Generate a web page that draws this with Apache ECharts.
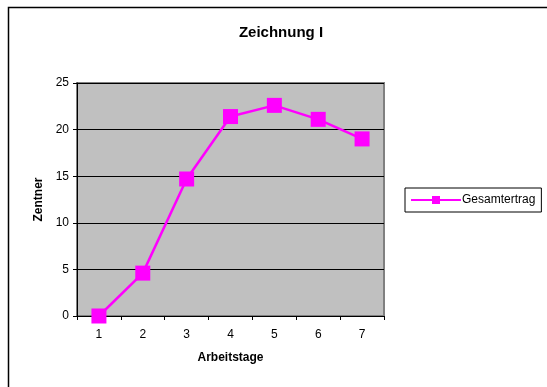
<!DOCTYPE html>
<html>
<head>
<meta charset="utf-8">
<script src="https://cdn.jsdelivr.net/npm/echarts@6/dist/echarts.min.js"></script>
<style>
  html, body { margin: 0; padding: 0; background: #fff; }
  #chart { width: 547px; height: 387px; }
</style>
</head>
<body>
<div id="chart"></div>
<script>
// Arbeitstage und Gesamtertrag in Zentnern
const days = ['1', '2', '3', '4', '5', '6', '7'];
const gesamtertrag = [0, 4.6, 14.7, 21.4, 22.6, 21.1, 19.0];
const yTicks = { min: 0, max: 25, interval: 5 };

const font = 'Arial, "Liberation Sans", sans-serif';
const chart = echarts.init(document.getElementById('chart'), null, { renderer: 'canvas' });

chart.setOption({
  animation: false,
  backgroundColor: '#ffffff',
  title: {
    text: 'Zeichnung I',
    left: 276,
    top: 20,
    textAlign: 'center',
    textStyle: { fontFamily: font, fontSize: 15, fontWeight: 'bold', color: '#000' }
  },
  graphic: [{
    type: 'rect',
    shape: { x: 8.5, y: 7.5, width: 560, height: 390 },
    style: { fill: 'none', stroke: '#000', lineWidth: 1.5 },
    silent: true
  }],
  legend: {
    left: 405,
    top: 188,
    orient: 'vertical',
    padding: [6, 6, 6, 5],
    borderColor: '#000',
    borderWidth: 1,
    itemWidth: 50,
    itemHeight: 10,
    itemGap: 0,
    textStyle: { fontFamily: font, fontSize: 12, color: '#000', padding: [0, 0, 0, -4] },
    data: ['Gesamtertrag']
  },
  grid: {
    left: 77,
    top: 83,
    width: 307,
    height: 233,
    show: true,
    backgroundColor: '#c0c0c0',
    borderColor: '#808080',
    borderWidth: 2
  },
  xAxis: {
    type: 'category',
    data: days,
    boundaryGap: true,
    name: 'Arbeitstage',
    nameLocation: 'middle',
    nameGap: 36,
    nameTextStyle: { fontFamily: font, fontSize: 12, fontWeight: 'bold', color: '#000' },
    axisLine: { lineStyle: { color: '#000', width: 1 } },
    axisTick: { show: true, interval: 0, alignWithLabel: false, length: 4, lineStyle: { color: '#000' } },
    axisLabel: { fontFamily: font, fontSize: 12, color: '#000', margin: 13 },
    splitLine: { show: false }
  },
  yAxis: {
    type: 'value',
    min: yTicks.min,
    max: yTicks.max,
    interval: yTicks.interval,
    name: 'Zentner',
    nameLocation: 'middle',
    nameGap: 31,
    nameRotate: 90,
    nameTextStyle: { fontFamily: font, fontSize: 12, fontWeight: 'bold', color: '#000' },
    axisLine: { show: true, lineStyle: { color: '#000', width: 1 } },
    axisTick: { show: true, length: 4, lineStyle: { color: '#000' } },
    axisLabel: { fontFamily: font, fontSize: 12, color: '#000', margin: 8 },
    splitLine: { show: true, lineStyle: { color: '#000', width: 1 } }
  },
  series: [{
    name: 'Gesamtertrag',
    type: 'line',
    data: gesamtertrag,
    symbol: 'rect',
    symbolSize: 15,
    itemStyle: { color: '#ff00ff' },
    lineStyle: { color: '#ff00ff', width: 2.5 },
    clip: false
  }]
});
</script>
</body>
</html>
